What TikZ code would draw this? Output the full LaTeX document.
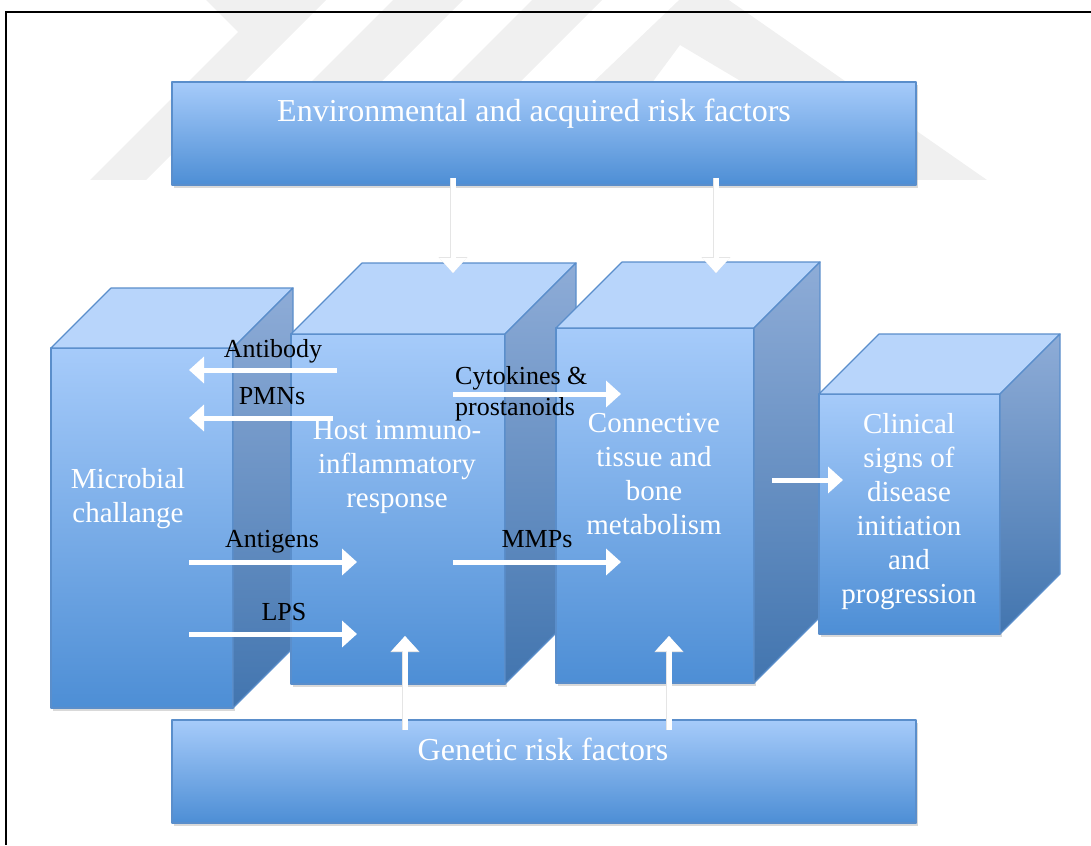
\documentclass[tikz,border=0pt]{standalone}
\usepackage{fontspec}
\setmainfont{Liberation Serif}
\usetikzlibrary{arrows.meta,shadows}

\definecolor{topblue}{HTML}{B8D5FB}
\definecolor{frontlight}{HTML}{A6CBFA}
\definecolor{frontdark}{HTML}{4D8ED5}
\definecolor{sidelight}{HTML}{8EACD7}
\definecolor{sidedark}{HTML}{4275AF}
\definecolor{edgeblue}{HTML}{5A8ECB}
\definecolor{markgray}{HTML}{F0F0F0}

\def\cubefont{\fontsize{29}{34}\selectfont}
\def\tagfont{\fontsize{26}{31}\selectfont}
\def\barfont{\fontsize{32}{38}\selectfont}

\tikzset{
  face/.style={draw=edgeblue, line width=1.2pt, line join=round},
  front/.style={face, top color=frontlight, bottom color=frontdark, inner sep=0pt, outer sep=0pt, anchor=north west,
    drop shadow={shadow xshift=2pt, shadow yshift=-3pt, opacity=.3}},
  topface/.style={face, fill=topblue},
  sideface/.style={face, top color=sidelight, bottom color=sidedark},
  bar/.style={front, minimum width=744pt, minimum height=103pt},
  celltext/.style={text=white, font=\cubefont, align=center, inner sep=0pt, anchor=north},
  bartext/.style={text=white, font=\barfont, inner sep=0pt, anchor=base},
  tag/.style={font=\tagfont, inner sep=0pt, anchor=base},
  flow/.style={white, line width=5pt, -{Triangle[length=15pt,width=26pt]}},
  rim/.style={black!10, line width=6.5pt, -{Triangle[length=16pt,width=28pt]}}
}

% front face node, top and side faces hung on its anchors
\newcommand{\blockcube}[5]{%
  \node[front, minimum width=#3pt, minimum height=#4pt] (#1) at #2 {};
  \draw[topface] (#1.north west) -- (#1.north east) -- ++(#5,-#5) -- ++(-#3,0) -- cycle;
  \draw[sideface] (#1.north east) -- ++(#5,-#5) -- ++(0,#4) -- (#1.south east) -- cycle;
}

\begin{document}
\begin{tikzpicture}[x=1pt,y=-1pt]
\useasboundingbox (0,0) rectangle (1091,845);

% watermark
\fill[markgray] (90,180) -- (238,32) -- (206,0) -- (326,0) -- (146,180) -- cycle;
\fill[markgray] (213,180) -- (393,0) -- (463,0) -- (283,180) -- cycle;
\fill[markgray] (352,180) -- (532,0) -- (602,0) -- (422,180) -- cycle;
\fill[markgray, even odd rule] (491,180) -- (700,-20) -- (987,180) -- cycle
  (580,180) -- (680,45) -- (907,180) -- cycle;

% frame
\draw[line width=1.5pt] (5,12) -- (1091,12);
\draw[line width=2pt] (6,12) -- (6,845);

% risk factor bars
\node[bar] (env) at (172,82) {};
\node[bar] (gen) at (172,720) {};

% cubes, left to right
\blockcube{micro}{(51,348)}{182}{360}{60}
\blockcube{host}{(291,334)}{214}{350}{71}
\blockcube{conn}{(556,328)}{198}{355}{66}
\blockcube{clin}{(819,394)}{181}{240}{60}

% texts
\node[bartext] (env-t) at (534,122) {Environmental and acquired risk factors};
\node[bartext] (gen-t) at (543,760) {Genetic risk factors};
\node[celltext] (micro-t) at (128,468) {Microbial\\challange};
\node[celltext] (host-t) at (397,420) {Host immuno-\\inflammatory\\response};
\node[celltext] (conn-t) at (654,413) {Connective\\tissue and\\bone\\metabolism};
\node[celltext] (clin-t) at (909,413) {Clinical\\signs of\\disease\\initiation\\and\\progression};

\node[tag] (ab-t) at (273,357) {Antibody};
\node[tag] (pm-t) at (272,404) {PMNs};
\node[tag] (ag-t) at (272,547) {Antigens};
\node[tag] (lp-t) at (284,620) {LPS};
\node[tag] (mm-t) at (537,547) {MMPs};
\node[tag, anchor=north west, align=left] (ck-t) at (455,366) {Cytokines \&\\prostanoids};

% arrow ends
\coordinate (envL) at (453,178);
\coordinate (hostT) at (453,273);
\coordinate (envR) at (716,178);
\coordinate (connT) at (716,273);
\coordinate (genL) at (405,730);
\coordinate (hostB) at (405,636);
\coordinate (genR) at (669,730);
\coordinate (connB) at (669,636);
\coordinate (abS) at (337,370);
\coordinate (abT) at (189,370);
\coordinate (pmS) at (333,418);
\coordinate (pmT) at (189,418);
\coordinate (agS) at (189,562);
\coordinate (agT) at (357,562);
\coordinate (lpS) at (189,634);
\coordinate (lpT) at (357,634);
\coordinate (ckS) at (453,394);
\coordinate (ckT) at (621,394);
\coordinate (mmS) at (453,562);
\coordinate (mmT) at (621,562);
\coordinate (clS) at (772,480);
\coordinate (clT) at (843,480);

\foreach \a/\b in {envL/hostT, envR/connT, genL/hostB, genR/connB}{
  \draw[rim] (\a) -- (\b);
}
\foreach \a/\b in {envL/hostT, envR/connT, genL/hostB, genR/connB, abS/abT, pmS/pmT,
  agS/agT, lpS/lpT, ckS/ckT, mmS/mmT, clS/clT}{
  \draw[flow] (\a) -- (\b);
}
\end{tikzpicture}
\end{document}
